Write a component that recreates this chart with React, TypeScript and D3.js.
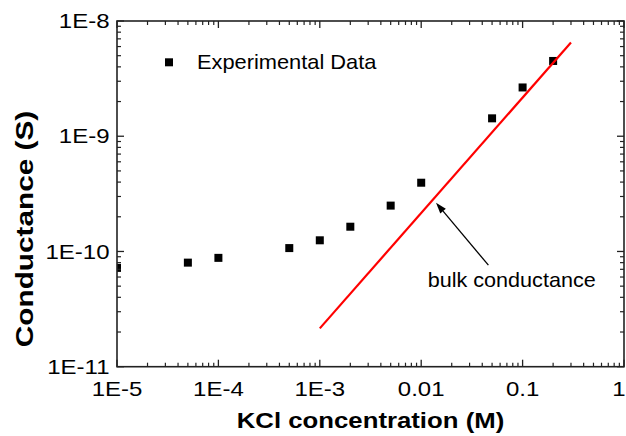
import React from "react";
import * as d3 from "d3";

// KCl concentration (M) and measured conductance (S)
const concentrations = [1e-5, 5e-5, 1e-4, 5e-4, 1e-3, 2e-3, 5e-3, 1e-2, 5e-2, 0.1, 0.2];
const conductance = [7.2e-11, 8.0e-11, 8.8e-11, 1.07e-10, 1.25e-10, 1.64e-10, 2.5e-10, 3.95e-10, 1.43e-9, 2.65e-9, 4.5e-9];

// Bulk conductance line (linear in concentration)
const bulkConc = [1e-3, 0.3];
const bulkG = [2.15e-11, 6.5e-9];

// Axis ticks
const xTickValues = [1e-5, 1e-4, 1e-3, 1e-2, 1e-1, 1];
const xTickLabels = ["1E-5", "1E-4", "1E-3", "0.01", "0.1", "1"];
const yTickValues = [1e-11, 1e-10, 1e-9, 1e-8];
const yTickLabels = ["1E-11", "1E-10", "1E-9", "1E-8"];

// Annotation anchor points (data coordinates)
const arrowTip = [0.014, 2.65e-10];
const arrowTail = [0.046, 7.6e-11];
const annotationAt = [0.0116, 4.9e-11];

const W = 626;
const H = 436;
const L = 117, R = 624, T = 21, B = 366.7;
const FONT = "'Liberation Sans', Arial, Helvetica, sans-serif";
const AXIS = "#222";

function minorTicks(lo: number, hi: number) {
  const out: number[] = [];
  for (let e = Math.round(Math.log10(lo)); e < Math.round(Math.log10(hi)); e++) {
    for (let m = 2; m <= 9; m++) out.push(m * Math.pow(10, e));
  }
  return out;
}

function SText({ x, y, sx = 1, rotate = 0, anchor = "start", size, weight = "normal", children, fill = "#000", dy = 0 }: any) {
  return (
    <text
      transform={`translate(${x},${y}) rotate(${rotate}) scale(${sx},1)`}
      textAnchor={anchor}
      fontSize={size}
      fontWeight={weight}
      fontFamily={FONT}
      fill={fill}
      dy={dy}
    >
      {children}
    </text>
  );
}

export default function App() {
  const x = d3.scaleLog().domain([1e-5, 1]).range([L, R]);
  const y = d3.scaleLog().domain([1e-11, 1e-8]).range([B, T]);

  const xMinor = minorTicks(1e-5, 1);
  const yMinor = minorTicks(1e-11, 1e-8);
  const MAJ = 7, MIN = 4;

  const bulkLine = d3.line<number>()
    .x((d, i) => x(bulkConc[i]))
    .y((d, i) => y(bulkG[i]))(bulkG);

  const tipX = x(arrowTip[0]), tipY = y(arrowTip[1]);
  const tailX = x(arrowTail[0]), tailY = y(arrowTail[1]);
  const ang = Math.atan2(tipY - tailY, tipX - tailX);
  const headLen = 11, headHalf = 3.6;
  const bx = tipX - headLen * Math.cos(ang), by = tipY - headLen * Math.sin(ang);
  const px = -Math.sin(ang) * headHalf, py = Math.cos(ang) * headHalf;

  const ms = 8;

  return (
    <svg width={W} height={H} style={{ position: "absolute", left: 0, top: 0, background: "#fff" }}>
      <defs>
        <clipPath id="plotClip">
          <rect x={L} y={T} width={R - L} height={B - T} />
        </clipPath>
      </defs>
      <rect x={0} y={0} width={W} height={H} fill="#fff" />

      {/* data */}
      <g clipPath="url(#plotClip)">
        {concentrations.map((c, i) => (
          <rect key={i} x={x(c) - ms / 2} y={y(conductance[i]) - ms / 2} width={ms} height={ms} fill="#000" />
        ))}
        <path d={bulkLine || ""} stroke="#ff0000" strokeWidth={2.2} fill="none" />
      </g>

      {/* arrow annotation */}
      <line x1={tailX} y1={tailY} x2={bx} y2={by} stroke="#000" strokeWidth={1.3} />
      <path d={`M${tipX},${tipY}L${bx + px},${by + py}L${bx - px},${by - py}Z`} fill="#000" />
      <SText x={x(annotationAt[0])} y={y(annotationAt[1])} size={20} sx={1.08}>bulk conductance</SText>

      {/* legend */}
      <rect x={169 - ms / 2} y={62.3 - ms / 2} width={ms} height={ms} fill="#000" />
      <SText x={197} y={68.5} size={20.5} sx={1.065}>Experimental Data</SText>

      {/* frame */}
      <rect x={L} y={T} width={R - L} height={B - T} fill="none" stroke={AXIS} strokeWidth={1.6} />

      {/* x ticks: bottom and top, inward */}
      {xTickValues.map((v) => (
        <g key={"xm" + v}>
          <line x1={x(v)} x2={x(v)} y1={B} y2={B - MAJ} stroke={AXIS} strokeWidth={1.3} />
          <line x1={x(v)} x2={x(v)} y1={T} y2={T + MAJ} stroke={AXIS} strokeWidth={1.3} />
        </g>
      ))}
      {xMinor.map((v) => (
        <g key={"xn" + v}>
          <line x1={x(v)} x2={x(v)} y1={B} y2={B - MIN} stroke={AXIS} strokeWidth={1.2} />
          <line x1={x(v)} x2={x(v)} y1={T} y2={T + MIN} stroke={AXIS} strokeWidth={1.2} />
        </g>
      ))}

      {/* y ticks: left and right, inward */}
      {yTickValues.map((v) => (
        <g key={"ym" + v}>
          <line x1={L} x2={L + MAJ} y1={y(v)} y2={y(v)} stroke={AXIS} strokeWidth={1.3} />
          <line x1={R} x2={R - MAJ} y1={y(v)} y2={y(v)} stroke={AXIS} strokeWidth={1.3} />
        </g>
      ))}
      {yMinor.map((v) => (
        <g key={"yn" + v}>
          <line x1={L} x2={L + MIN} y1={y(v)} y2={y(v)} stroke={AXIS} strokeWidth={1.2} />
          <line x1={R} x2={R - MIN} y1={y(v)} y2={y(v)} stroke={AXIS} strokeWidth={1.2} />
        </g>
      ))}

      {/* tick labels; the last one is kept inside the canvas edge */}
      {xTickValues.map((v, i) => {
        const last = i === xTickValues.length - 1;
        return (
          <SText key={"xl" + v} x={last ? W - 0.5 : x(v)} y={396} size={20} sx={1.2} anchor={last ? "end" : "middle"}>
            {xTickLabels[i]}
          </SText>
        );
      })}
      {yTickValues.map((v, i) => (
        <SText key={"yl" + v} x={109.5} y={y(v)} dy={7.2} size={20} sx={1.2} anchor="end">{yTickLabels[i]}</SText>
      ))}

      {/* axis titles */}
      <SText x={(L + R) / 2} y={428} size={23} sx={1.12} weight="bold" anchor="middle">KCl concentration (M)</SText>
      <SText x={33} y={229} rotate={-90} size={24} sx={1.24} weight="bold" anchor="middle">Conductance (S)</SText>
    </svg>
  );
}
